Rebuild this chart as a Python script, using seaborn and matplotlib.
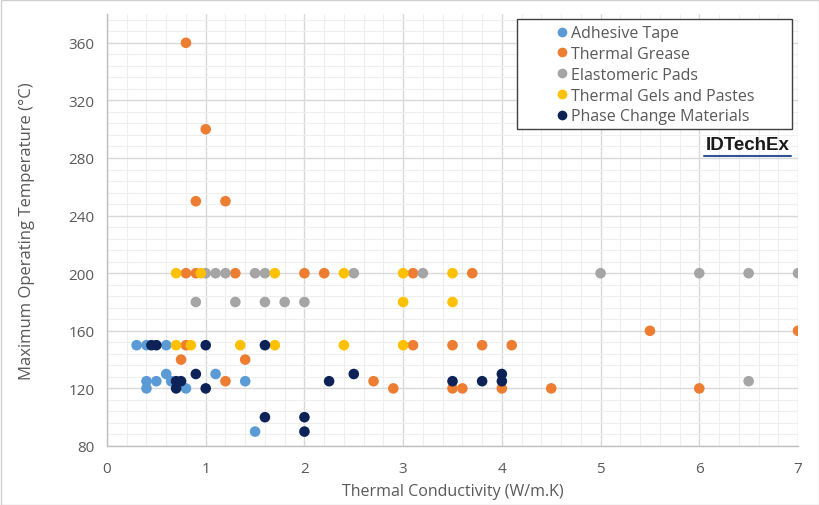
import matplotlib
matplotlib.use("Agg")
import matplotlib.pyplot as plt
import seaborn as sns
import pandas as pd
from matplotlib.patches import Rectangle
from matplotlib.ticker import MultipleLocator
from matplotlib.lines import Line2D

# ---- data ----
categories = ["Adhesive Tape", "Thermal Grease", "Elastomeric Pads",
              "Thermal Gels and Pastes", "Phase Change Materials"]
colors = ["#5B9BD5", "#ED7D31", "#A5A5A5", "#FFC000", "#0D2357"]

tape_x = [0.3, 0.4, 0.6, 0.6, 1.1, 0.4, 0.5, 0.65, 1.4, 0.4, 0.8, 1.5]
tape_y = [150, 150, 150, 130, 130, 125, 125, 125, 125, 120, 120, 90]

grease_x = [0.8, 1.0, 0.9, 1.2, 0.8, 0.9, 1.3, 2.0, 2.2, 3.1, 3.7, 5.5, 7.0,
            0.8, 3.1, 3.5, 3.8, 4.1, 0.75, 1.4, 1.2, 2.7, 2.9, 3.5, 3.6, 4.0, 4.5, 6.0]
grease_y = [360, 300, 250, 250, 200, 200, 200, 200, 200, 200, 200, 160, 160,
            150, 150, 150, 150, 150, 140, 140, 125, 125, 120, 120, 120, 120, 120, 120]

pads_x = [1.0, 1.1, 1.2, 1.5, 1.6, 2.5, 3.2, 5.0, 6.0, 6.5, 7.0,
          0.9, 1.3, 1.6, 1.8, 2.0, 6.5]
pads_y = [200, 200, 200, 200, 200, 200, 200, 200, 200, 200, 200,
          180, 180, 180, 180, 180, 125]

gels_x = [0.7, 0.95, 1.7, 2.4, 3.0, 3.5, 3.0, 3.5, 0.7, 0.85, 1.35, 1.7, 2.4, 3.0]
gels_y = [200, 200, 200, 200, 200, 200, 180, 180, 150, 150, 150, 150, 150, 150]

pcm_x = [0.45, 0.5, 1.0, 1.6, 0.9, 2.5, 4.0, 0.7, 0.75, 2.25, 3.5, 3.8, 4.0,
         0.7, 1.0, 1.6, 2.0, 2.0]
pcm_y = [150, 150, 150, 150, 130, 130, 130, 125, 125, 125, 125, 125, 125,
         120, 120, 100, 100, 90]

x_ticks = [0, 1, 2, 3, 4, 5, 6, 7]
y_ticks = [80, 120, 160, 200, 240, 280, 320, 360]

series = [(tape_x, tape_y), (grease_x, grease_y), (pads_x, pads_y),
          (gels_x, gels_y), (pcm_x, pcm_y)]
frames = []
for cat, (xs, ys) in zip(categories, series):
    frames.append(pd.DataFrame({"k": xs, "t": ys, "type": cat}))
df = pd.concat(frames, ignore_index=True)

# ---- style ----
sns.set_style("white")
plt.rcParams["font.family"] = ["Open Sans", "DejaVu Sans"]
text_col = "#595959"

fig = plt.figure(figsize=(8.2, 5.06), dpi=100)
ax = fig.add_axes([107/820, 1 - 447/506, (798-107)/820, (447-15)/506])

sns.scatterplot(data=df, x="k", y="t", hue="type", hue_order=categories,
                palette=colors, s=58, edgecolor="none", linewidth=0,
                ax=ax, legend=False, zorder=3)

ax.set_xlim(0, 7)
ax.set_ylim(80, 380)
ax.set_xticks(x_ticks)
ax.set_yticks(y_ticks)
ax.xaxis.set_minor_locator(MultipleLocator(0.2))
ax.yaxis.set_minor_locator(MultipleLocator(8))
ax.grid(which="major", color="#D9D9D9", linewidth=1.0, zorder=0)
ax.grid(which="minor", color="#EFEFEF", linewidth=0.8, zorder=0)
ax.set_axisbelow(True)
for s in ["top", "right"]:
    ax.spines[s].set_visible(False)
for s in ["left", "bottom"]:
    ax.spines[s].set_color("#BFBFBF")
    ax.spines[s].set_linewidth(1.0)
ax.tick_params(axis="both", which="major", length=5, color="#BFBFBF",
               labelcolor=text_col, labelsize=11)
ax.tick_params(axis="x", which="major", pad=6)
ax.tick_params(axis="y", which="major", pad=4)
ax.tick_params(axis="both", which="minor", length=0)

ax.set_xlabel("Thermal Conductivity (W/m.K)", color=text_col, fontsize=11.5, labelpad=5)
ax.set_ylabel("Maximum Operating Temperature (\u00b0C)", color=text_col, fontsize=12, labelpad=24)

# legend box
fig.patches.append(Rectangle((517/820, 1 - 130/506), (792-517)/820, (130-20)/506,
                             transform=fig.transFigure, facecolor="white",
                             edgecolor="#404040", linewidth=1.0, zorder=5))
handles = [Line2D([0], [0], marker="o", linestyle="", markersize=7,
                  markerfacecolor=c, markeredgecolor="none") for c in colors]
leg = fig.legend(handles, categories, loc="upper left",
                 bbox_to_anchor=(541/820, 1 - 15/506), frameon=False,
                 fontsize=11.5, handletextpad=0.0, labelspacing=0.3,
                 handlelength=1.2, borderpad=0.2)
for t in leg.get_texts():
    t.set_color(text_col)
leg.set_zorder(6)

# IDTechEx logo
fig.text(790/820, 1 - 146/506, "IDTechEx", ha="right", va="center",
         fontsize=13.5, fontweight="bold", color="#1A1A1A",
         family=["Liberation Sans", "DejaVu Sans"])
fig.add_artist(Line2D([704/820, 791/820], [1 - 157/506, 1 - 157/506],
                      transform=fig.transFigure, color="#2F5597", linewidth=1.5))

# outer border
fig.patches.append(Rectangle((0.5/820, 0.5/506), 819/820, 505/506,
                             transform=fig.transFigure, facecolor="none",
                             edgecolor="#D0D0D0", linewidth=1.0))

fig.savefig("out.png", dpi=100)
